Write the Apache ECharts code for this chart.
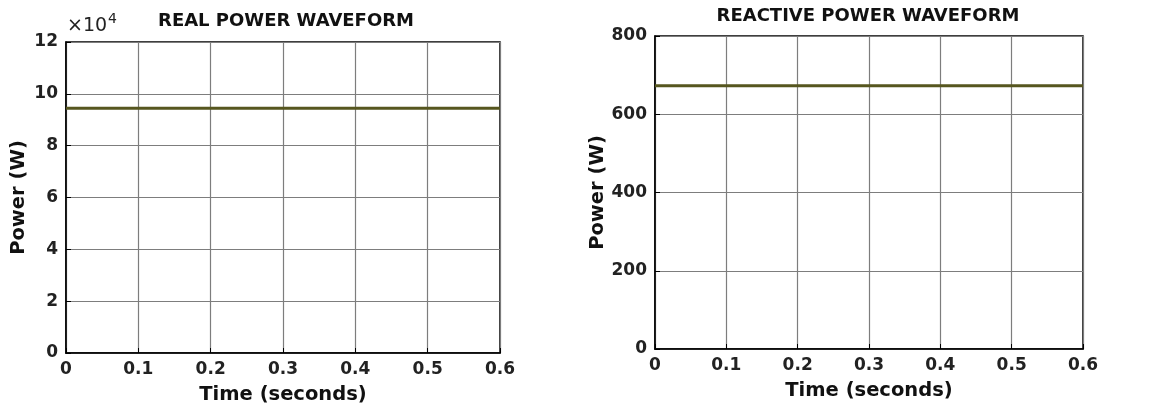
<!DOCTYPE html>
<html>
<head>
<meta charset="utf-8">
<script src="https://cdn.jsdelivr.net/npm/echarts@6/dist/echarts.min.js"></script>
<style>
  html, body { margin: 0; padding: 0; background: #fff; }
  #chart { width: 1164px; height: 412px; }
</style>
</head>
<body>
<div id="chart"></div>
<script>
// Simulation time samples (s)
const timeSeconds = [0, 0.1, 0.2, 0.3, 0.4, 0.5, 0.6];
// Real power output (W)
const realPower = [94400, 94400, 94400, 94400, 94400, 94400, 94400];
// Reactive power output (VAr, labelled W on the axis)
const reactivePower = [673, 673, 673, 673, 673, 673, 673];
// Axis tick settings
const xTicks = { min: 0, max: 0.6, interval: 0.1 };
const realTicks = { min: 0, max: 120000, interval: 20000, scale: 10000 };
const reactiveTicks = { min: 0, max: 800, interval: 200 };

const FONT = 'DejaVu Sans';
const lineColor = '#56561f';
const gridColor = '#7d7d7d';

function xAxisFor(gridIndex) {
  return {
    type: 'value', gridIndex,
    min: xTicks.min, max: xTicks.max, interval: xTicks.interval,
    name: 'Time (seconds)', nameLocation: 'middle', nameGap: 32,
    nameTextStyle: { fontFamily: FONT, fontWeight: 'bold', fontSize: 19.5, color: '#111' },
    axisLine: { show: true, lineStyle: { color: '#000', width: 1.5 } },
    axisTick: { show: true, inside: true, length: 5, lineStyle: { color: '#000' } },
    axisLabel: { fontFamily: FONT, fontWeight: 'bold', fontSize: 17, color: '#222', margin: 8,
                 formatter: v => (v === 0 ? '0' : v.toFixed(1)) },
    splitLine: { show: true, lineStyle: { color: gridColor, width: 1.2 } }
  };
}

function yAxisFor(gridIndex, ticks, gap, fmt) {
  return {
    type: 'value', gridIndex,
    min: ticks.min, max: ticks.max, interval: ticks.interval,
    name: 'Power (W)', nameLocation: 'middle', nameGap: gap, nameRotate: 90,
    nameTextStyle: { fontFamily: FONT, fontWeight: 'bold', fontSize: 19.5, color: '#111' },
    axisLine: { show: true, lineStyle: { color: '#000', width: 1.5 } },
    axisTick: { show: true, inside: true, length: 5, lineStyle: { color: '#000' } },
    axisLabel: { fontFamily: FONT, fontWeight: 'bold', fontSize: 17, color: '#222', margin: 8, formatter: fmt },
    splitLine: { show: true, lineStyle: { color: gridColor, width: 1.2 } }
  };
}

const chart = echarts.init(document.getElementById('chart'), null, { renderer: 'canvas' });
chart.setOption({
  animation: false,
  backgroundColor: '#fff',
  title: [
    { text: 'REAL POWER WAVEFORM', left: 281, top: 7, textAlign: 'center',
      textStyle: { fontFamily: FONT, fontWeight: 'bold', fontSize: 18, color: '#111' } },
    { text: 'REACTIVE POWER WAVEFORM', left: 863, top: 2, textAlign: 'center',
      textStyle: { fontFamily: FONT, fontWeight: 'bold', fontSize: 18, color: '#111' } }
  ],
  grid: [
    { left: 66, right: 664, top: 42, bottom: 59, show: true, borderColor: '#000', borderWidth: 1.5 },
    { left: 655, right: 81, top: 36, bottom: 63, show: true, borderColor: '#000', borderWidth: 1.5 }
  ],
  xAxis: [xAxisFor(0), xAxisFor(1)],
  yAxis: [
    yAxisFor(0, realTicks, 37, v => String(v / realTicks.scale)),
    yAxisFor(1, reactiveTicks, 46, v => String(v))
  ],
  graphic: [
    {
      type: 'text', left: 67, top: 12,
      style: {
        text: '{m|×10}{e|4}',
        rich: {
          m: { fontFamily: FONT, fontSize: 19, fill: '#222', verticalAlign: 'bottom', lineHeight: 24 },
          e: { fontFamily: FONT, fontSize: 14, fill: '#222', verticalAlign: 'top', lineHeight: 24, padding: [0, 0, 10, 1] }
        }
      }
    }
  ],
  series: [
    { type: 'line', xAxisIndex: 0, yAxisIndex: 0, showSymbol: false,
      data: timeSeconds.map((t, i) => [t, realPower[i]]),
      lineStyle: { color: lineColor, width: 3 } },
    { type: 'line', xAxisIndex: 1, yAxisIndex: 1, showSymbol: false,
      data: timeSeconds.map((t, i) => [t, reactivePower[i]]),
      lineStyle: { color: lineColor, width: 3 } }
  ]
});
</script>
</body>
</html>
